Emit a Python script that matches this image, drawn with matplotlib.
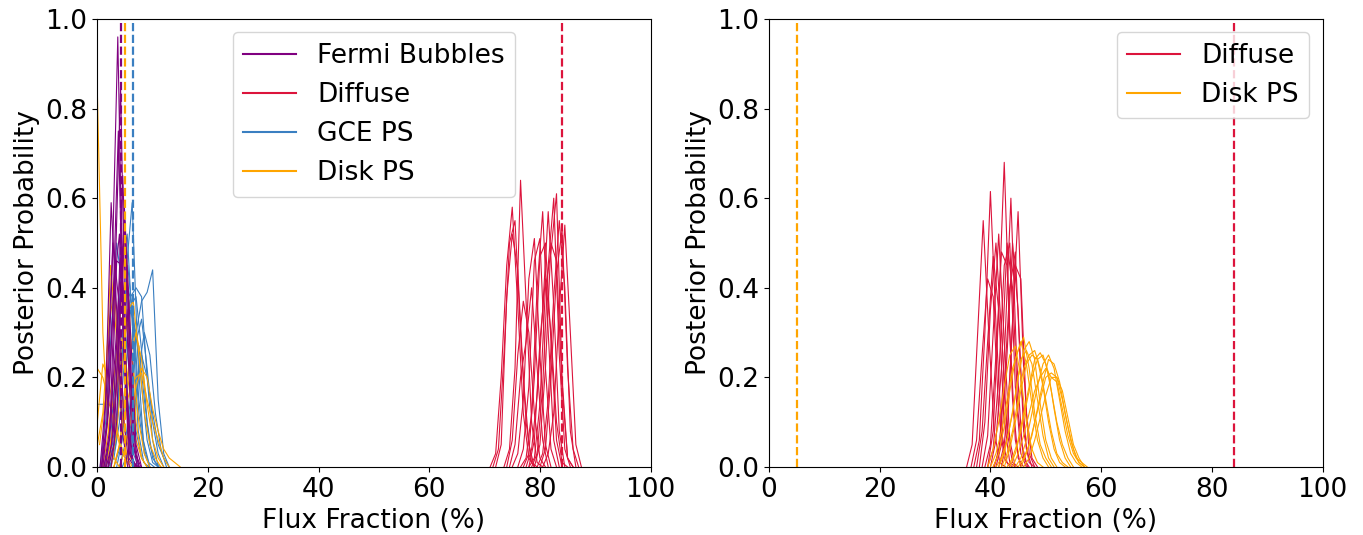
import numpy as np
import matplotlib
matplotlib.use("Agg")
import matplotlib.pyplot as plt

# posterior curves: (first flux fraction %, probabilities at 1% steps)
fb_left = [
    (0.7, [0.0, 0.10, 0.45, 0.96, 0.30, 0.02, 0.0]),
    (0.5, [0.0, 0.15, 0.59, 0.35, 0.08, 0.0]),
    (1.9, [0.0, 0.08, 0.30, 0.58, 0.25, 0.03, 0.0]),
    (1.0, [0.0, 0.12, 0.40, 0.52, 0.20, 0.03, 0.0]),
    (1.5, [0.0, 0.10, 0.46, 0.45, 0.12, 0.01, 0.0]),
    (2.0, [0.0, 0.05, 0.35, 0.55, 0.30, 0.05, 0.0]),
    (0.8, [0.0, 0.20, 0.50, 0.38, 0.10, 0.0]),
    (1.2, [0.0, 0.08, 0.25, 0.45, 0.35, 0.08, 0.0]),
    (2.5, [0.0, 0.10, 0.48, 0.40, 0.08, 0.0]),
    (1.2, [0.0, 0.06, 0.42, 0.85, 0.20, 0.02, 0.0]),
    (0.8, [0.0, 0.10, 0.35, 0.75, 0.25, 0.03, 0.0]),
    (1.6, [0.0, 0.05, 0.30, 0.65, 0.28, 0.04, 0.0]),
]
diffuse_left = [
    (71.0, [0.0, 0.03, 0.20, 0.45, 0.58, 0.36, 0.12, 0.02, 0.0]),
    (71.5, [0.0, 0.04, 0.25, 0.50, 0.55, 0.30, 0.10, 0.01, 0.0]),
    (72.0, [0.0, 0.05, 0.38, 0.52, 0.44, 0.20, 0.05, 0.0]),
    (73.5, [0.0, 0.04, 0.22, 0.64, 0.37, 0.10, 0.01, 0.0]),
    (74.0, [0.0, 0.06, 0.25, 0.37, 0.30, 0.12, 0.02, 0.0]),
    (74.5, [0.0, 0.05, 0.20, 0.28, 0.40, 0.22, 0.06, 0.0]),
    (75.0, [0.0, 0.03, 0.15, 0.42, 0.51, 0.25, 0.05, 0.0]),
    (76.0, [0.0, 0.04, 0.18, 0.46, 0.51, 0.22, 0.04, 0.0]),
    (76.5, [0.0, 0.02, 0.12, 0.40, 0.57, 0.30, 0.06, 0.0]),
    (77.0, [0.0, 0.03, 0.20, 0.47, 0.50, 0.28, 0.06, 0.0]),
    (77.5, [0.0, 0.04, 0.16, 0.35, 0.57, 0.36, 0.08, 0.0]),
    (78.0, [0.0, 0.02, 0.14, 0.40, 0.48, 0.61, 0.20, 0.02, 0.0]),
    (78.5, [0.0, 0.03, 0.18, 0.45, 0.60, 0.25, 0.04, 0.0]),
    (79.0, [0.0, 0.05, 0.22, 0.50, 0.46, 0.18, 0.02, 0.0]),
    (79.5, [0.0, 0.03, 0.15, 0.38, 0.55, 0.40, 0.08, 0.0]),
    (80.0, [0.0, 0.04, 0.20, 0.43, 0.53, 0.22, 0.04, 0.0]),
    (80.5, [0.0, 0.03, 0.12, 0.35, 0.54, 0.30, 0.05, 0.0]),
    (78.0, [0.0, 0.06, 0.28, 0.42, 0.30, 0.10, 0.01, 0.0]),
]
gce_left = [
    (2.3, [0.0, 0.05, 0.20, 0.45, 0.59, 0.25, 0.06, 0.01, 0.0]),
    (4.0, [0.0, 0.04, 0.12, 0.30, 0.37, 0.39, 0.44, 0.15, 0.03, 0.0]),
    (2.0, [0.0, 0.05, 0.15, 0.30, 0.38, 0.40, 0.38, 0.20, 0.06, 0.0]),
    (0.0, [0.14, 0.14, 0.14, 0.13, 0.22, 0.30, 0.20, 0.08, 0.02, 0.0]),
    (1.4, [0.0, 0.06, 0.25, 0.45, 0.52, 0.30, 0.08, 0.01, 0.0]),
    (3.0, [0.0, 0.04, 0.18, 0.36, 0.38, 0.26, 0.10, 0.02, 0.0]),
    (2.5, [0.0, 0.08, 0.30, 0.45, 0.32, 0.12, 0.03, 0.0]),
    (4.0, [0.0, 0.05, 0.15, 0.28, 0.33, 0.22, 0.10, 0.03, 0.0]),
    (1.5, [0.0, 0.03, 0.12, 0.28, 0.40, 0.35, 0.15, 0.04, 0.0]),
    (3.5, [0.0, 0.06, 0.20, 0.30, 0.27, 0.15, 0.05, 0.01, 0.0]),
    (0.5, [0.0, 0.10, 0.30, 0.50, 0.40, 0.15, 0.03, 0.0]),
    (4.5, [0.0, 0.03, 0.10, 0.22, 0.30, 0.25, 0.12, 0.04, 0.0]),
    (2.0, [0.0, 0.02, 0.10, 0.25, 0.35, 0.30, 0.18, 0.06, 0.01, 0.0]),
    (5.0, [0.0, 0.05, 0.15, 0.25, 0.20, 0.12, 0.05, 0.02, 0.0]),
]
disk_left = [
    (0.0, [0.84, 0.30, 0.08, 0.02, 0.0]),
    (0.4, [0.05, 0.15, 0.45, 0.30, 0.10, 0.02, 0.0]),
    (2.5, [0.0, 0.08, 0.22, 0.35, 0.37, 0.25, 0.12, 0.05, 0.02, 0.0]),
    (3.0, [0.0, 0.05, 0.12, 0.18, 0.20, 0.21, 0.15, 0.10, 0.06, 0.02, 0.0]),
    (0.0, [0.22, 0.20, 0.15, 0.10, 0.05, 0.02, 0.0]),
    (0.0, [0.10, 0.23, 0.20, 0.12, 0.06, 0.02, 0.0]),
    (2.0, [0.0, 0.10, 0.30, 0.52, 0.30, 0.10, 0.02, 0.0]),
    (1.0, [0.0, 0.08, 0.20, 0.30, 0.25, 0.15, 0.06, 0.02, 0.0]),
    (4.0, [0.0, 0.04, 0.10, 0.18, 0.22, 0.20, 0.13, 0.08, 0.04, 0.02, 0.01, 0.0]),
    (0.0, [0.05, 0.12, 0.30, 0.40, 0.25, 0.08, 0.02, 0.0]),
    (1.5, [0.0, 0.06, 0.18, 0.28, 0.32, 0.22, 0.10, 0.03, 0.0]),
    (3.0, [0.0, 0.05, 0.15, 0.25, 0.30, 0.24, 0.14, 0.06, 0.02, 0.0]),
]
diffuse_right = [
    (35.7, [0.0, 0.05, 0.30, 0.55, 0.30, 0.08, 0.01, 0.0]),
    (37.0, [0.0, 0.06, 0.30, 0.615, 0.32, 0.08, 0.01, 0.0]),
    (39.5, [0.0, 0.08, 0.35, 0.68, 0.30, 0.06, 0.0]),
    (40.7, [0.0, 0.05, 0.30, 0.60, 0.25, 0.05, 0.0]),
    (42.0, [0.0, 0.07, 0.32, 0.57, 0.22, 0.03, 0.0]),
    (38.0, [0.0, 0.10, 0.35, 0.50, 0.30, 0.08, 0.01, 0.0]),
    (39.0, [0.0, 0.05, 0.25, 0.48, 0.45, 0.15, 0.02, 0.0]),
    (37.5, [0.0, 0.08, 0.28, 0.47, 0.35, 0.10, 0.01, 0.0]),
    (40.0, [0.0, 0.06, 0.22, 0.50, 0.40, 0.12, 0.02, 0.0]),
    (39.5, [0.0, 0.04, 0.20, 0.45, 0.50, 0.18, 0.03, 0.0]),
    (41.0, [0.0, 0.05, 0.25, 0.50, 0.35, 0.08, 0.01, 0.0]),
    (36.5, [0.0, 0.06, 0.25, 0.42, 0.38, 0.12, 0.02, 0.0]),
    (40.5, [0.0, 0.03, 0.18, 0.40, 0.48, 0.20, 0.04, 0.0]),
    (38.5, [0.0, 0.07, 0.30, 0.52, 0.28, 0.06, 0.0]),
    (41.5, [0.0, 0.05, 0.20, 0.45, 0.42, 0.12, 0.02, 0.0]),
]
disk_right = [
    (40.0, [0.0, 0.03, 0.08, 0.15, 0.22, 0.26, 0.29, 0.22, 0.12, 0.05, 0.02, 0.0]),
    (41.0, [0.0, 0.02, 0.06, 0.12, 0.20, 0.26, 0.28, 0.24, 0.14, 0.06, 0.02, 0.0]),
    (42.0, [0.0, 0.03, 0.08, 0.15, 0.22, 0.25, 0.26, 0.22, 0.15, 0.08, 0.03, 0.01, 0.0]),
    (43.0, [0.0, 0.02, 0.06, 0.12, 0.18, 0.24, 0.255, 0.23, 0.17, 0.10, 0.05, 0.02, 0.0]),
    (44.0, [0.0, 0.03, 0.07, 0.12, 0.17, 0.20, 0.22, 0.20, 0.19, 0.13, 0.07, 0.03, 0.01, 0.0]),
    (39.5, [0.0, 0.04, 0.10, 0.18, 0.25, 0.27, 0.20, 0.10, 0.04, 0.01, 0.0]),
    (42.5, [0.0, 0.04, 0.10, 0.17, 0.23, 0.25, 0.24, 0.18, 0.10, 0.04, 0.01, 0.0]),
    (44.5, [0.0, 0.02, 0.06, 0.12, 0.18, 0.23, 0.25, 0.22, 0.15, 0.08, 0.03, 0.01, 0.0]),
    (45.0, [0.0, 0.02, 0.05, 0.10, 0.15, 0.20, 0.21, 0.20, 0.15, 0.09, 0.04, 0.01, 0.0]),
    (41.5, [0.0, 0.03, 0.09, 0.16, 0.24, 0.26, 0.23, 0.15, 0.07, 0.02, 0.0]),
    (43.5, [0.0, 0.03, 0.08, 0.14, 0.20, 0.24, 0.25, 0.21, 0.13, 0.06, 0.02, 0.0]),
    (46.0, [0.0, 0.02, 0.06, 0.11, 0.16, 0.20, 0.20, 0.17, 0.11, 0.05, 0.02, 0.0]),
    (40.5, [0.0, 0.03, 0.09, 0.17, 0.24, 0.28, 0.23, 0.14, 0.06, 0.02, 0.0]),
    (45.5, [0.0, 0.03, 0.07, 0.13, 0.19, 0.24, 0.23, 0.19, 0.12, 0.06, 0.02, 0.01, 0.0]),
]

# true flux fractions (dashed lines)
true_left = {"Fermi Bubbles": 4.2, "Diffuse": 84.0, "GCE PS": 6.5, "Disk PS": 5.0}
true_right = {"Diffuse": 84.0, "Disk PS": 5.0}

colores = {"Fermi Bubbles": "purple", "Diffuse": "crimson",
           "GCE PS": "#3a7fc1", "Disk PS": "orange"}

plt.rcParams['font.family'] = ['DejaVu Sans']
plt.rcParams['font.size'] = 19


def dibujar(ax, curvas, color):
    for inicio, vals in curvas:
        x = inicio + np.arange(len(vals))
        ax.plot(x, vals, color=color, lw=0.8)


fig = plt.figure(figsize=(13.63, 5.35), dpi=100)
ax1 = fig.add_axes([0.0714, 0.1271, 0.4059, 0.8374])
ax2 = fig.add_axes([0.5642, 0.1271, 0.4061, 0.8374])

# panel izquierdo
dibujar(ax1, diffuse_left, colores["Diffuse"])
dibujar(ax1, gce_left, colores["GCE PS"])
dibujar(ax1, disk_left, colores["Disk PS"])
dibujar(ax1, fb_left, colores["Fermi Bubbles"])
for nombre in ["Fermi Bubbles", "Diffuse", "GCE PS", "Disk PS"]:
    ax1.plot([], [], color=colores[nombre], lw=1.5, label=nombre)
for nombre, v in true_left.items():
    ax1.axvline(v, color=colores[nombre], ls="--", lw=1.6)
ax1.legend(loc="upper center")

# panel derecho
dibujar(ax2, diffuse_right, colores["Diffuse"])
dibujar(ax2, disk_right, colores["Disk PS"])
for nombre in ["Diffuse", "Disk PS"]:
    ax2.plot([], [], color=colores[nombre], lw=1.5, label=nombre)
for nombre, v in true_right.items():
    ax2.axvline(v, color=colores[nombre], ls="--", lw=1.6)
ax2.legend(loc="upper right")

for ax in (ax1, ax2):
    ax.set_xlim(0, 100)
    ax.set_ylim(0, 1)
    ax.set_xticks([0, 20, 40, 60, 80, 100])
    ax.set_yticks([0.0, 0.2, 0.4, 0.6, 0.8, 1.0])
    ax.set_xlabel("Flux Fraction (%)")
    ax.set_ylabel("Posterior Probability")

fig.savefig("out.png", dpi=100)
